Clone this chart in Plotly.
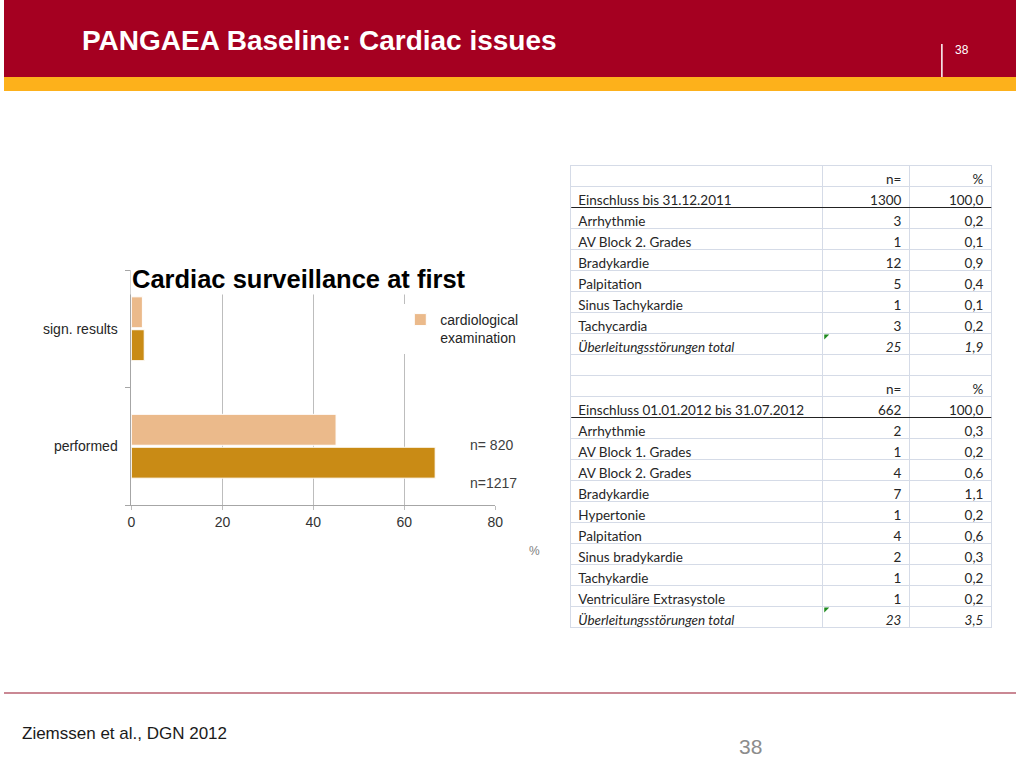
import plotly.graph_objects as go

W, H = 1024, 768

# bar chart data
categories = ["performed", "sign. results"]
exam_light = [45.0, 2.4]     # cardiological examination
exam_dark = [66.8, 2.8]
light_name = "cardiological<br>examination"
dark_name = "second group"
n_labels = ["n= 820", "n=1217"]
x_ticks = [0, 20, 40, 60, 80]

# table data
labels_2011 = ["Arrhythmie", "AV Block 2. Grades", "Bradykardie", "Palpitation",
               "Sinus Tachykardie", "Tachycardia"]
n_2011 = ["3", "1", "12", "5", "1", "3"]
pct_2011 = ["0,2", "0,1", "0,9", "0,4", "0,1", "0,2"]
total_2011 = ["25", "1,9"]
incl_2011 = ["Einschluss bis 31.12.2011", "1300", "100,0"]

labels_2012 = ["Arrhythmie", "AV Block 1. Grades", "AV Block 2. Grades", "Bradykardie",
               "Hypertonie", "Palpitation", "Sinus bradykardie", "Tachykardie",
               "Ventriculäre Extrasystole"]
n_2012 = ["2", "1", "4", "7", "1", "4", "2", "1", "1"]
pct_2012 = ["0,3", "0,2", "0,6", "1,1", "0,2", "0,6", "0,3", "0,2", "0,2"]
total_2012 = ["23", "3,5"]
incl_2012 = ["Einschluss 01.01.2012 bis 31.07.2012", "662", "100,0"]

total_label = "Überleitungsstörungen total"
head_cols = ["", "n=", "%"]


def px(x):
    return x / W


def py(y):
    return 1 - y / H


light_col = "#EBBA8B"
dark_col = "#C98B15"
grid_blue = "#D5DBE7"
font = "Liberation Sans, Arial, sans-serif"
tfam = "Lato, Open Sans, sans-serif"

fig = go.Figure()

fig.add_trace(go.Bar(
    y=categories, x=exam_dark, orientation="h", name=dark_name,
    marker=dict(color=dark_col, line=dict(color="white", width=1)),
    showlegend=False, hoverinfo="x+y"
))
fig.add_trace(go.Bar(
    y=categories, x=exam_light, orientation="h", name=light_name,
    marker=dict(color=light_col, line=dict(color="white", width=1)),
    hoverinfo="x+y"
))

row_h = 21
table_top = 165.5


def add_block(start, header, cols, italic=False):
    # one piece of the excel table, `start` is the row index of its header row
    n = 1 + (len(cols[0]) if cols else 0)
    f = dict(family=tfam, size=13.5, color="#262626", style="italic" if italic else "normal")
    fig.add_trace(go.Table(
        domain=dict(x=[px(573), px(1000)],
                    y=[py(table_top + (start + n) * row_h + 2), py(table_top + start * row_h)]),
        columnwidth=[256, 88, 83],
        header=dict(values=header, align=["left", "right", "right"],
                    fill_color="white", line=dict(color=grid_blue, width=1), font=f, height=row_h),
        cells=dict(values=cols if cols else [], align=["left", "right", "right"],
                   fill_color="white", line=dict(color=grid_blue, width=1), font=f, height=row_h),
    ))
    return start + n


r = add_block(0, head_cols, [[incl_2011[0]] + labels_2011, [incl_2011[1]] + n_2011, [incl_2011[2]] + pct_2011])
total_rows = [r]
r = add_block(r, [total_label] + total_2011, None, italic=True)
sep_rows = [2]
r = add_block(r, [" ", " ", " "], [[head_cols[0], incl_2012[0]] + labels_2012,
                                   [head_cols[1], incl_2012[1]] + n_2012,
                                   [head_cols[2], incl_2012[2]] + pct_2012])
sep_rows.append(r - len(labels_2012))
total_rows.append(r)
r = add_block(r, [total_label] + total_2012, None, italic=True)

shapes = [
    dict(type="rect", xref="paper", yref="paper", x0=0, x1=1, y0=py(77), y1=1,
         fillcolor="#A50021", line_width=0, layer="below"),
    dict(type="rect", xref="paper", yref="paper", x0=0, x1=1, y0=py(91), y1=py(77),
         fillcolor="#FDB11B", line_width=0, layer="below"),
    dict(type="line", xref="paper", yref="paper", x0=px(949), x1=px(949), y0=py(77), y1=py(44),
         line=dict(color="white", width=1.5)),
    dict(type="line", xref="paper", yref="paper", x0=0, x1=1, y0=py(693), y1=py(693),
         line=dict(color="#B86070", width=1.5)),
]
# black separators below the inclusion rows
for s in sep_rows:
    yb = table_top + s * row_h
    shapes.append(dict(type="line", xref="paper", yref="paper", x0=px(574), x1=px(999),
                       y0=py(yb), y1=py(yb), line=dict(color="#222222", width=1.2)))
# green excel markers at the totals
for t in total_rows:
    yt = table_top + t * row_h + 1
    shapes.append(dict(type="path", xref="paper", yref="paper",
                       path="M %f %f L %f %f L %f %f Z" % (px(830), py(yt), px(835), py(yt), px(830), py(yt + 5)),
                       fillcolor="#1E8A1E", line_width=0))

annotations = [
    dict(text="<b>PANGAEA Baseline: Cardiac issues</b>", x=px(77), y=py(40), xref="paper", yref="paper",
         xanchor="left", yanchor="middle", showarrow=False,
         font=dict(family=font, size=28, color="white")),
    dict(text="38", x=px(960), y=py(50), xref="paper", yref="paper", xanchor="left", yanchor="middle",
         showarrow=False, font=dict(family=font, size=12, color="white")),
    dict(text="Ziemssen et al., DGN 2012", x=px(16), y=py(733), xref="paper", yref="paper",
         xanchor="left", yanchor="middle", showarrow=False,
         font=dict(family=font, size=17, color="#1a1a1a")),
    dict(text="38", x=px(755), y=py(746), xref="paper", yref="paper", xanchor="center", yanchor="middle",
         showarrow=False, font=dict(family=font, size=21, color="#8c8c8c")),
    dict(text="<b>Cardiac surveillance at first</b>", x=px(127), y=py(279), xref="paper", yref="paper",
         xanchor="left", yanchor="middle", showarrow=False, bgcolor="white",
         font=dict(family=font, size=25.5, color="black")),
    dict(text="%", x=px(537), y=py(551), xref="paper", yref="paper", xanchor="center", yanchor="middle",
         showarrow=False, font=dict(family=font, size=12, color="#808080")),
    dict(text=n_labels[0], x=px(470), y=py(445), xref="paper", yref="paper", xanchor="left", yanchor="middle",
         showarrow=False, font=dict(family=font, size=14, color="#404040")),
    dict(text=n_labels[1], x=px(470), y=py(483), xref="paper", yref="paper", xanchor="left", yanchor="middle",
         showarrow=False, font=dict(family=font, size=14, color="#404040")),
]

fig.update_layout(
    width=W, height=H,
    margin=dict(l=0, r=0, t=0, b=0),
    paper_bgcolor="white", plot_bgcolor="white",
    barmode="group", bargap=0.44, bargroupgap=0.06,
    showlegend=True,
    legend=dict(x=px(401), y=py(304), xanchor="left", yanchor="top", bgcolor="white",
                font=dict(family=font, size=14, color="#262626"), itemwidth=30,
                valign="top", tracegroupgap=0),
    xaxis=dict(domain=[px(129), px(497)], range=[0, 80], tickvals=x_ticks,
               showgrid=True, gridcolor="#BDBDBD", gridwidth=1, zeroline=False,
               showline=True, linecolor="#A6A6A6", ticks="outside", ticklen=4, tickcolor="#BDBDBD",
               tickfont=dict(family=font, size=14, color="#333333"), fixedrange=True),
    yaxis=dict(domain=[py(505), py(270)], range=[-0.5, 1.5], type="category",
               showgrid=False, showline=True, linecolor="#A6A6A6",
               ticks="outside", ticklen=5, tickcolor="#A6A6A6", tickson="boundaries",
               ticklabelstandoff=10,
               tickfont=dict(family=font, size=14, color="#262626"), fixedrange=True),
    shapes=shapes,
    annotations=annotations,
)

# drop the default page margin so the 1024x768 figure fills the window exactly
fig.write_html("out.html", config={"displayModeBar": False},
               post_script="document.body.style.margin='0';document.body.style.overflow='hidden';")
